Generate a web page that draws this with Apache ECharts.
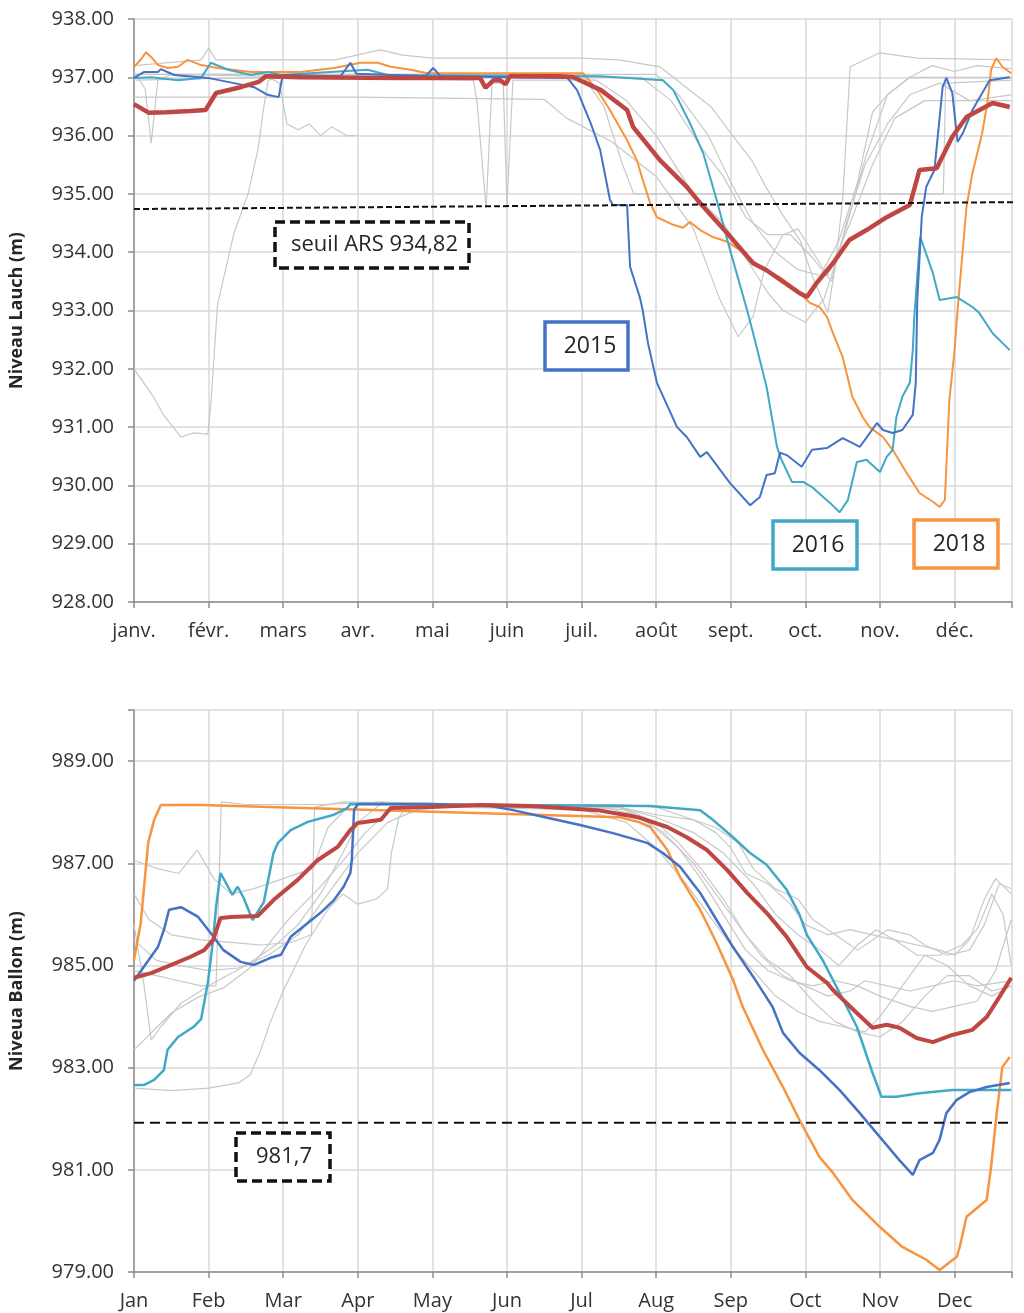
<!DOCTYPE html>
<html><head><meta charset="utf-8">
<script src="https://cdn.jsdelivr.net/npm/echarts@6/dist/echarts.min.js"></script>
<style>html,body{margin:0;padding:0;background:#fff}#c{width:1024px;height:1313px}</style>
</head><body><div id="c"></div>
<script>
// ---- tick labels ----
const monthsFr = ['janv.','févr.','mars','avr.','mai','juin','juil.','août','sept.','oct.','nov.','déc.'];
const monthsEn = ['Jan','Feb','Mar','Apr','May','Jun','Jul','Aug','Sep','Oct','Nov','Dec'];
// x values are in months since 1 Jan (0 = janv., 11 = déc.)

// ---- Lauch (top) ----
const lauchMean = [[0,936.54],[0.20,936.39],[0.43,936.40],[0.76,936.42],[0.96,936.44],[1.10,936.73],[1.43,936.83],[1.67,936.92],[1.77,937.02],[2.23,937.0],[3.57,936.99],[4.64,936.99],[4.71,936.82],[4.82,936.95],[4.91,936.95],[4.98,936.88],[5.04,937.02],[5.71,937.02],[5.89,937.0],[6.26,936.78],[6.61,936.44],[6.69,936.15],[7.05,935.58],[7.41,935.12],[7.59,934.84],[7.95,934.33],[8.30,933.81],[8.48,933.69],[8.92,933.30],[9.02,933.23],[9.15,933.47],[9.37,933.81],[9.59,934.21],[9.82,934.38],[10.09,934.60],[10.40,934.81],[10.53,935.41],[10.76,935.44],[10.97,935.98],[11.16,936.32],[11.51,936.56],[11.74,936.49]];
const lauch2015 = [[0,936.99],[0.13,937.09],[0.32,937.09],[0.36,937.14],[0.54,937.04],[0.99,936.99],[1.34,936.90],[1.61,936.83],[1.79,936.70],[1.94,936.66],[1.98,936.95],[2.01,937.04],[2.77,937.02],[2.90,937.25],[2.98,937.06],[3.91,937.02],[4.01,937.16],[4.11,937.02],[5.81,936.99],[5.94,936.78],[6.12,936.22],[6.25,935.75],[6.38,934.9],[6.42,934.81],[6.61,934.81],[6.65,933.75],[6.78,933.23],[6.82,933.0],[6.89,932.44],[7.01,931.76],[7.28,931.0],[7.41,930.83],[7.59,930.49],[7.68,930.57],[7.99,930.04],[8.26,929.66],[8.39,929.8],[8.48,930.18],[8.59,930.21],[8.66,930.56],[8.75,930.52],[8.95,930.32],[9.09,930.61],[9.29,930.64],[9.50,930.81],[9.73,930.66],[9.96,931.07],[10.04,930.95],[10.17,930.9],[10.30,930.95],[10.44,931.21],[10.48,931.76],[10.50,933.18],[10.56,934.6],[10.62,935.12],[10.73,935.41],[10.84,936.83],[10.89,936.99],[10.97,936.73],[11.04,935.89],[11.11,936.04],[11.24,936.44],[11.47,936.95],[11.74,937.0]];
const lauch2016 = [[0,936.99],[0.23,937.0],[0.59,936.95],[0.90,936.99],[1.03,937.25],[1.26,937.13],[1.57,937.04],[1.79,937.09],[1.97,937.04],[3.13,937.13],[3.40,937.04],[6.25,937.02],[7.09,936.95],[7.23,936.78],[7.45,936.22],[7.63,935.70],[7.81,934.90],[7.99,934.04],[8.22,933.0],[8.30,932.61],[8.48,931.69],[8.62,930.66],[8.68,930.44],[8.82,930.06],[8.97,930.06],[9.10,929.96],[9.33,929.70],[9.46,929.54],[9.57,929.75],[9.69,930.40],[9.82,930.44],[10.0,930.23],[10.09,930.49],[10.17,930.61],[10.22,931.17],[10.30,931.52],[10.40,931.76],[10.44,932.32],[10.46,932.89],[10.54,934.26],[10.71,933.64],[10.80,933.18],[11.03,933.23],[11.24,933.06],[11.33,932.96],[11.51,932.61],[11.74,932.32]];
const lauch2018 = [[0,937.18],[0.09,937.30],[0.16,937.43],[0.23,937.35],[0.32,937.21],[0.45,937.16],[0.59,937.18],[0.72,937.30],[0.90,937.21],[1.12,937.16],[1.57,937.09],[2.23,937.09],[2.68,937.16],[3.04,937.25],[3.27,937.25],[3.44,937.18],[3.71,937.13],[3.93,937.07],[6.02,937.07],[6.21,936.78],[6.38,936.44],[6.61,935.92],[6.74,935.58],[6.82,935.24],[6.92,934.84],[7.01,934.60],[7.23,934.47],[7.36,934.42],[7.45,934.52],[7.59,934.38],[7.76,934.26],[7.95,934.18],[8.12,934.04],[8.39,933.75],[8.66,933.57],[8.89,933.35],[9.06,933.13],[9.19,933.06],[9.29,932.89],[9.37,932.61],[9.50,932.20],[9.63,931.52],[9.77,931.17],[9.86,931.0],[10.04,930.83],[10.17,930.61],[10.36,930.21],[10.53,929.87],[10.71,929.72],[10.80,929.63],[10.87,929.75],[10.91,930.90],[10.93,931.46],[11.0,932.32],[11.04,933.0],[11.16,934.78],[11.24,935.36],[11.37,936.04],[11.44,936.56],[11.49,937.13],[11.56,937.33],[11.64,937.18],[11.76,937.07]];
const lauchGray1 = [[0,932.0],[0.27,931.5],[0.40,931.2],[0.63,930.83],[0.80,930.9],[0.99,930.88],[1.03,931.4],[1.12,933.1],[1.34,934.33],[1.53,935.0],[1.66,935.75],[1.74,936.49],[1.80,936.95],[2.0,937.02],[6.8,937.0],[7.2,936.6],[7.6,935.8],[7.9,935.3],[8.2,934.6],[8.5,934.3],[8.8,934.3],[9.1,933.9],[9.35,933.5],[9.55,934.5],[9.8,935.5],[10.1,936.2],[10.4,936.7],[10.8,936.9],[11.2,936.6],[11.76,936.7]];
const lauchGray2 = [[0,937.2],[0.9,937.3],[1.0,937.5],[1.1,937.3],[2.7,937.3],[3.3,937.47],[3.6,937.38],[4.0,937.33],[6.0,937.33],[6.5,937.3],[7.05,937.18],[7.4,936.83],[7.74,936.49],[8.0,936.04],[8.28,935.58],[8.47,935.12],[8.68,934.67],[8.93,934.2],[9.1,933.57],[9.3,932.96],[9.4,933.75],[9.5,934.9],[9.55,936.04],[9.6,937.18],[10.0,937.42],[10.5,937.33],[11.76,937.3]];
const lauchGray3 = [[0,936.66],[3,936.66],[5.5,936.62],[5.8,936.3],[6.4,935.9],[7.0,935.3],[7.5,934.4],[7.85,933.2],[8.1,932.55],[8.3,932.9],[8.45,933.7],[8.7,934.3],[8.9,934.4],[9.1,934.0],[9.3,933.6],[9.6,934.5],[9.9,935.5],[10.2,936.3],[10.6,936.6],[11.76,936.6]];
const lauchGray4 = [[0,937.05],[6.0,937.05],[6.3,936.5],[6.55,935.5],[6.7,935.0],[10.85,935.0],[10.88,936.9],[11.76,936.95]];
const lauchGray5 = [[0,937.1],[0.15,936.8],[0.23,935.87],[0.32,936.95],[0.5,937.05],[4.55,936.95],[4.6,936.56],[4.72,934.75],[4.8,936.9],[4.95,936.9],[5.0,934.8],[5.08,936.95],[6.2,936.95],[6.6,936.6],[7.0,936.0],[7.5,935.0],[7.9,934.5],[8.2,933.9],[8.5,933.3],[8.7,933.0],[9.0,932.8],[9.25,933.2],[9.5,934.2],[9.8,935.6],[10.1,936.7],[10.4,937.0],[11.76,937.0]];
const lauchGray6 = [[0,936.95],[1.8,937.0],[1.95,936.9],[2.05,936.2],[2.2,936.1],[2.35,936.2],[2.5,936.0],[2.65,936.15],[2.85,936.0],[3.0,936.0]];
const lauchGray7 = [[0,937.05],[7.0,937.05],[7.3,936.7],[7.7,936.0],[8.0,935.2],[8.3,934.5],[8.6,934.0],[8.9,933.7],[9.2,933.6],[9.45,934.2],[9.7,935.2],[9.9,936.4],[10.1,936.7],[10.4,937.0],[10.7,937.2],[11.0,937.1],[11.3,937.2],[11.76,937.15]];
const lauchThreshold = [[0,934.74],[11.93,934.86]];

// ---- Ballon (bottom) ----
const ballonMean = [[0,984.76],[0.23,984.85],[0.50,985.01],[0.76,985.17],[0.94,985.3],[1.06,985.5],[1.16,985.93],[1.30,985.95],[1.66,985.97],[1.87,986.28],[2.19,986.67],[2.46,987.06],[2.73,987.32],[2.90,987.65],[3.0,987.79],[3.31,987.85],[3.44,988.08],[3.97,988.1],[4.64,988.14],[5.31,988.12],[6.21,988.04],[6.65,987.93],[6.78,987.89],[7.15,987.71],[7.41,987.51],[7.68,987.26],[7.95,986.87],[8.22,986.42],[8.48,986.03],[8.75,985.56],[9.02,984.97],[9.29,984.66],[9.37,984.52],[9.69,984.07],[9.90,983.78],[10.09,983.84],[10.26,983.78],[10.49,983.58],[10.71,983.5],[10.97,983.64],[11.24,983.74],[11.43,983.99],[11.60,984.38],[11.76,984.76]];
const ballon2015 = [[0,984.7],[0.13,984.97],[0.32,985.36],[0.40,985.69],[0.47,986.09],[0.63,986.14],[0.86,985.95],[1.03,985.63],[1.20,985.30],[1.43,985.07],[1.61,985.01],[1.83,985.15],[1.97,985.21],[2.10,985.56],[2.33,985.83],[2.50,986.03],[2.68,986.28],[2.81,986.54],[2.90,986.81],[2.92,987.06],[2.95,988.04],[3.0,988.16],[3.97,988.16],[4.78,988.12],[5.08,988.04],[5.54,987.89],[5.98,987.75],[6.42,987.59],[6.88,987.4],[7.09,987.2],[7.32,986.93],[7.59,986.42],[7.81,985.89],[8.03,985.36],[8.30,984.78],[8.56,984.19],[8.70,983.68],[8.92,983.29],[9.19,982.95],[9.46,982.56],[9.73,982.11],[10.0,981.64],[10.26,981.19],[10.44,980.9],[10.53,981.19],[10.71,981.33],[10.80,981.59],[10.89,982.11],[11.03,982.37],[11.20,982.52],[11.43,982.62],[11.74,982.7]];
const ballon2016 = [[0,982.66],[0.13,982.66],[0.27,982.76],[0.40,982.95],[0.45,983.35],[0.59,983.6],[0.80,983.8],[0.90,983.95],[0.99,984.66],[1.06,985.5],[1.10,986.14],[1.16,986.81],[1.26,986.54],[1.32,986.38],[1.39,986.54],[1.47,986.32],[1.59,985.89],[1.74,986.24],[1.87,987.2],[1.93,987.4],[2.10,987.65],[2.33,987.81],[2.68,987.95],[2.86,988.08],[2.90,988.16],[6.92,988.12],[7.59,988.04],[7.76,987.85],[8.03,987.51],[8.26,987.2],[8.48,986.97],[8.75,986.48],[8.92,986.0],[9.02,985.6],[9.23,985.11],[9.46,984.46],[9.69,983.8],[9.90,982.9],[10.02,982.43],[10.22,982.43],[10.53,982.5],[10.97,982.56],[11.76,982.56]];
const ballon2018 = [[0,985.1],[0.09,985.83],[0.19,987.4],[0.27,987.85],[0.36,988.14],[0.9,988.14],[6.52,987.9],[6.78,987.8],[6.92,987.71],[7.15,987.26],[7.32,986.73],[7.59,986.09],[7.81,985.44],[8.03,984.72],[8.16,984.19],[8.43,983.35],[8.70,982.62],[8.92,981.98],[9.19,981.25],[9.37,980.94],[9.63,980.41],[10.0,979.88],[10.30,979.49],[10.62,979.24],[10.80,979.04],[11.03,979.30],[11.07,979.49],[11.16,980.08],[11.43,980.41],[11.49,981.06],[11.56,982.04],[11.64,983.01],[11.74,983.21]];
const ballonGray1 = [[0,984.9],[0.3,984.8],[0.6,984.7],[0.9,984.6],[1.1,984.6],[1.17,988.2],[1.5,988.15],[2.5,988.15],[3.0,988.18],[4.0,988.15],[5.5,988.1],[6.5,988.1],[7.0,987.95],[7.5,987.85],[7.8,987.6],[8.0,987.3],[8.2,986.8],[8.5,986.6],[8.8,986.2],[9.0,985.8],[9.3,985.6],[9.6,985.7],[9.9,985.6],[10.2,985.5],[10.5,985.4],[10.8,985.3],[11.0,985.2],[11.2,985.5],[11.4,986.3],[11.55,986.7],[11.76,986.4]];
const ballonGray2 = [[0,983.35],[0.23,983.68],[0.5,984.07],[0.86,984.38],[1.2,984.56],[1.57,984.97],[1.88,985.56],[2.1,985.95],[2.46,986.48],[2.81,987.06],[3.1,987.6],[3.4,988.0],[3.7,988.1],[6.3,988.1],[6.7,987.95],[7.1,987.6],[7.5,987.0],[7.8,986.4],[8.1,985.8],[8.4,985.2],[8.7,984.8],[9.0,984.6],[9.3,984.4],[9.6,984.5],[9.8,984.7],[10.1,984.6],[10.4,984.5],[10.7,984.6],[11.0,984.7],[11.3,984.6],[11.76,984.7]];
const ballonGray3 = [[0,982.6],[0.5,982.55],[1.0,982.6],[1.4,982.7],[1.56,982.86],[1.7,983.35],[1.83,983.9],[2.0,984.5],[2.3,985.4],[2.6,986.1],[2.8,986.4],[3.0,986.2],[3.25,986.3],[3.4,986.5],[3.45,987.2],[3.55,987.9],[3.65,988.1],[6.5,988.1],[6.9,987.8],[7.3,987.3],[7.6,986.7],[7.9,986.0],[8.2,985.3],[8.5,984.9],[8.8,984.7],[9.1,984.6],[9.4,984.7],[9.7,984.6],[10.0,984.4],[10.4,984.2],[10.7,984.1],[11.0,984.2],[11.3,984.3],[11.55,984.9],[11.76,985.9]];
const ballonGray4 = [[0,985.8],[0.13,984.66],[0.23,983.54],[0.36,983.8],[0.63,984.26],[1.07,984.66],[1.5,985.0],[1.9,985.4],[2.2,985.8],[2.5,986.4],[2.8,987.2],[3.0,987.8],[3.3,988.15],[5.9,988.15],[6.5,988.1],[7.0,987.9],[7.5,987.6],[7.9,987.2],[8.3,986.6],[8.6,986.0],[8.9,985.6],[9.2,985.3],[9.45,985.0],[9.7,985.4],[9.95,985.7],[10.2,985.5],[10.5,985.2],[10.8,985.2],[11.1,985.4],[11.3,985.7],[11.5,986.4],[11.65,986.0],[11.76,985.0]];
const ballonGray5 = [[0,987.06],[0.3,986.9],[0.6,986.8],[0.85,987.26],[1.07,986.7],[1.3,986.4],[1.6,986.5],[2.0,986.7],[2.4,986.9],[2.6,987.7],[2.9,988.15],[3.3,988.2],[4.0,988.15],[6.5,988.15],[7.0,988.1],[7.4,987.9],[7.8,987.7],[8.1,987.4],[8.3,986.9],[8.6,986.5],[8.9,986.3],[9.1,985.9],[9.4,985.6],[9.7,985.3],[9.9,985.5],[10.1,985.7],[10.4,985.6],[10.6,985.4],[10.9,985.2],[11.2,985.3],[11.4,985.8],[11.6,986.6],[11.76,986.5]];
const ballonGray6 = [[0,986.4],[0.2,985.9],[0.5,985.6],[0.9,985.5],[1.3,985.45],[1.7,985.4],[2.1,985.45],[2.38,985.6],[2.42,988.1],[2.8,988.2],[5.0,988.15],[6.0,988.1],[6.6,988.05],[7.0,987.8],[7.3,987.4],[7.6,986.9],[7.9,986.3],[8.2,985.6],[8.5,985.1],[8.8,984.8],[9.1,984.3],[9.4,983.9],[9.7,983.7],[10.0,983.6],[10.3,983.9],[10.6,984.4],[10.9,984.8],[11.2,984.8],[11.5,984.5],[11.76,984.6]];
const ballonGray7 = [[0,985.5],[0.3,985.1],[0.6,985.0],[1.0,984.9],[1.4,984.95],[1.8,985.2],[2.2,985.6],[2.6,986.4],[3.0,987.2],[3.4,987.8],[3.8,988.05],[4.2,988.1],[6.0,988.05],[6.6,987.8],[7.0,987.3],[7.4,986.6],[7.7,986.0],[8.0,985.4],[8.3,984.9],[8.6,984.4],[8.9,984.1],[9.2,983.9],[9.5,983.8],[9.8,983.7],[10.0,984.0],[10.3,984.6],[10.6,985.2],[10.9,985.0],[11.2,984.6],[11.5,984.4],[11.76,984.6]];
const ballonThreshold = [[0,981.92],[11.93,981.92]];

// ---- chart ----
const FONT = '"Open Sans", "Noto Sans", sans-serif';
const C2015 = '#4472c4', C2016 = '#41a9c6', C2018 = '#f7943d', CMEAN = '#be4744', CGRAY = '#c8c8c8';
const chart = echarts.init(document.getElementById('c'), null, {renderer: 'canvas', width: 1024, height: 1313});

function xAxisDef(idx, labels) {
  return {
    type: 'value', gridIndex: idx, min: 0, max: 11.77, interval: 1,
    axisLine: {show: true, lineStyle: {color: '#8c8c8c', width: 1.5}},
    axisTick: {show: true, length: 6, lineStyle: {color: '#8c8c8c', width: 1.5}},
    axisLabel: {margin: 19, fontFamily: FONT, fontSize: 20, color: '#333',
      formatter: v => (Number.isInteger(v) && labels[v]) ? labels[v] : ''},
    splitLine: {show: true, lineStyle: {color: '#d9d9d9', width: 1.5}}
  };
}
function yAxisDef(idx, min, max, interval, name) {
  return {
    type: 'value', gridIndex: idx, min, max, interval,
    name, nameLocation: 'middle', nameGap: 108, nameRotate: 90,
    nameTextStyle: {fontFamily: FONT, fontSize: 18, fontWeight: 'bold', color: '#262626'},
    axisLine: {show: true, lineStyle: {color: '#8c8c8c', width: 1.5}},
    axisTick: {show: true, length: 6, lineStyle: {color: '#8c8c8c', width: 1.5}},
    axisLabel: {margin: 20, fontFamily: FONT, fontSize: 20, color: '#333',
      formatter: v => (v === max && (max - min) % interval !== 0) ? '' : v.toFixed(2)},
    splitLine: {show: true, lineStyle: {color: '#d9d9d9', width: 1.5}}
  };
}
function line(idx, data, color, width, z) {
  return {type: 'line', xAxisIndex: idx, yAxisIndex: idx, data, symbol: 'none', showSymbol: false,
    lineStyle: {color, width}, z, silent: true, animation: false};
}
function thresh(idx, data, dash) {
  return {type: 'line', xAxisIndex: idx, yAxisIndex: idx, data, symbol: 'none', showSymbol: false, clip: false,
    lineStyle: {color: '#111', width: 2, type: dash}, z: 8, silent: true, animation: false};
}
function box(x, y, w, h, color, dashed, text, fs, tx, align) {
  return [
    {type: 'rect', shape: {x, y, width: w, height: h}, z: 100,
      style: {fill: '#fff', stroke: color, lineWidth: 3.5, lineDash: dashed ? [10, 5] : null}},
    {type: 'text', z: 101, style: {text, x: tx, y: y + h / 2, align: align, verticalAlign: 'middle',
      font: fs + 'px ' + FONT, fill: '#262626'}}
  ];
}

const lauchGrays = [lauchGray1, lauchGray2, lauchGray3, lauchGray4, lauchGray5, lauchGray6, lauchGray7];
const ballonGrays = [ballonGray1, ballonGray2, ballonGray3, ballonGray4, ballonGray5, ballonGray6, ballonGray7];

const series = [];
lauchGrays.forEach(d => series.push(line(0, d, CGRAY, 1.2, 2)));
series.push(thresh(0, lauchThreshold, [6, 3]));
series.push(line(0, lauch2018, C2018, 2, 4));
series.push(line(0, lauch2016, C2016, 2, 5));
series.push(line(0, lauch2015, C2015, 2, 6));
series.push(line(0, lauchMean, CMEAN, 4.5, 7));
ballonGrays.forEach(d => series.push(line(1, d, CGRAY, 1.2, 2)));
series.push(thresh(1, ballonThreshold, [10, 6]));
series.push(line(1, ballon2018, C2018, 2.5, 4));
series.push(line(1, ballon2016, C2016, 2.5, 5));
series.push(line(1, ballon2015, C2015, 2.5, 6));
series.push(line(1, ballonMean, CMEAN, 4, 7));

chart.setOption({
  animation: false,
  backgroundColor: '#fff',
  grid: [
    {left: 133, right: 12, top: 19, height: 583},
    {left: 133, right: 12, top: 710, height: 562}
  ],
  xAxis: [xAxisDef(0, monthsFr), xAxisDef(1, monthsEn)],
  yAxis: [yAxisDef(0, 928, 938, 1, 'Niveau Lauch (m)'), yAxisDef(1, 979, 990, 2, 'Niveua Ballon (m)')],
  series,
  graphic: [].concat(
    box(275, 222, 194, 46, '#111', true, 'seuil ARS 934,82', 22, 291, 'left'),
    box(545, 322, 83, 48, C2015, false, '2015', 23, 590, 'center'),
    box(773, 521, 84, 48, C2016, false, '2016', 23, 818, 'center'),
    box(914, 520, 84, 48, C2018, false, '2018', 23, 959, 'center'),
    box(236, 1133, 94, 48, '#111', true, '981,7', 22, 284, 'center')
  )
});
</script></body></html>
